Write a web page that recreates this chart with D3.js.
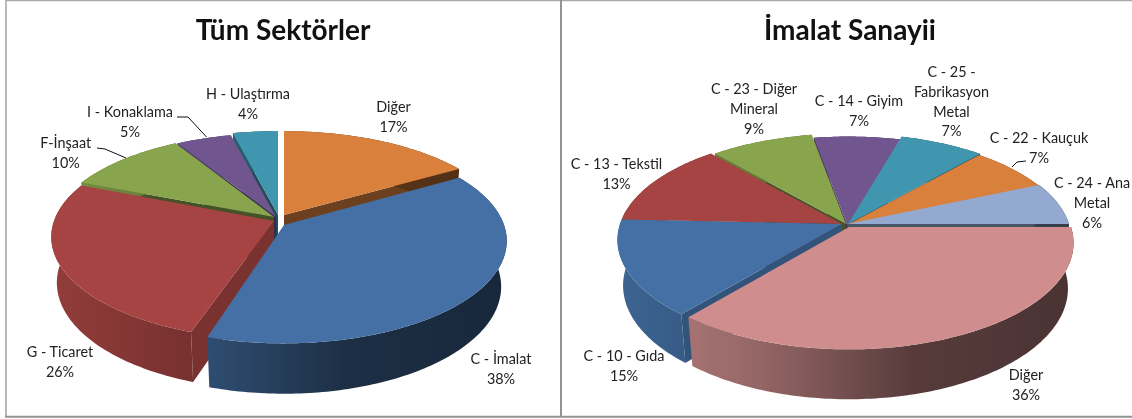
<!DOCTYPE html>
<html><head><meta charset="utf-8">
<style>html,body{margin:0;padding:0;background:#fff}svg{display:block;filter:blur(.35px)}</style>
<script src="https://cdnjs.cloudflare.com/ajax/libs/d3/7.8.5/d3.min.js"></script>
</head><body><div id="c"></div>
<script>
// ---- data ----
const leftTitle = "Tüm Sektörler";
const leftCategories = ["Diğer","C - İmalat","G - Ticaret","F-İnşaat","I - Konaklama","H - Ulaştırma"];
const leftValues = [16.5,38.4,26.4,10.4,4.7,3.8];
const leftColors = ["#D8803C","#4470A5","#A54442","#88A44C","#70558F","#4096AE"];

const rightTitle = "İmalat Sanayii";
const rightCategories = ["Diğer","C - 10 - Gıda","C - 13 - Tekstil","C - 23 - Diğer\nMineral","C - 14 - Giyim","C - 25 -\nFabrikasyon\nMetal","C - 22 - Kauçuk","C - 24 - Ana\nMetal"];
const rightValues = [35.7,14.5,12.75,8.5,7.2,7,6.9,6.45];
const rightColors = ["#CF8D8D","#4470A5","#A54442","#88A44C","#70558F","#4096AE","#D8803C","#93A9CF"];

// ---- layout (styling only) ----
const pies = [
 {title:leftTitle,titleX:283,cats:leftCategories,vals:leftValues,cols:leftColors,
  cx:279,cy:219,R:220,Rk:97,p:.156,start:0,
  shift:[[5,-4],[5,6],[-5,2],[-5,-2],[-3,-2],[-1,-4]],
  stretch:[1,1.03,1.03,1,1,1],
  trim:[0,0,1.5,0,0,0],
  labels:[[393.5,112],[501,364],[60,357],[65.7,148],[130,117],[248,99]],
  leaders:[[[177,117],[188,117],[206.5,137]],[[97,148],[105,149],[126,158]]]},
 {title:rightTitle,titleX:850,cats:rightCategories,vals:rightValues,cols:rightColors,
  cx:848,cy:222,R:222,Rk:104,p:.15,start:90,
  shift:[[1,5],[-6,2],[-6,2],[-2,2],[0,5],[0,2],[-1,3],[-1,2]],
  stretch:[1,1,1,1,1,1,1,1],
  trim:[0,0,0,0,0,0,0,0],
  labels:[[1026,380],[624,361],[616.5,169],[754,94],[859,106],[951.5,77],[1039,143],[1092,188]],
  leaders:[[[1026,161],[1017,162],[1012,167]]]}
];
const dropBase = 45, bottomScale = .975;
const wallStops = [[-1,.88],[-.4,.72],[.3,.42],[1,.36]];

const W=1132,H=419;
const svg=d3.select("#c").append("svg").attr("width",W).attr("height",H);
const defs=svg.append("defs");
const line=d3.line();
const scaleColor=(c,f)=>{const r=d3.rgb(c);return d3.rgb(r.r*f,r.g*f,r.b*f).formatHex();};

// frames
svg.append("path").attr("d","M6,417V0.5H1132").attr("fill","none").attr("stroke","#a8a8a8").attr("stroke-width",1.6);
svg.append("path").attr("d","M561,0V417M5,416.8H1132").attr("fill","none").attr("stroke","#939393").attr("stroke-width",2);

pies.forEach((P,pi)=>{
  const g=svg.append("g");
  const arcs=d3.pie().sort(null).startAngle(P.start*Math.PI/180).endAngle((P.start+360)*Math.PI/180)(P.vals);
  const proj=(a,r,sh,low,k)=>{
    const u=Math.sin(a)*r,v=-Math.cos(a)*r,s=1/(1-P.p*v);
    let x=P.R*u*s,y=P.Rk*k*v*s;
    if(low){x*=bottomScale;y=y*bottomScale+dropBase*s;}
    return [P.cx+sh[0]+x,P.cy+sh[1]+y];
  };
  const order=arcs.map((d,i)=>({d,i,mid:(d.startAngle+d.endAngle)/2}))
    .sort((a,b)=>(-Math.cos(a.mid))-(-Math.cos(b.mid)));
  order.forEach(({d,i})=>{
    const sh=P.shift[i],col=P.cols[i],k=P.stretch[i];
    const a0=d.startAngle+P.trim[i]*Math.PI/180;
    const steps=d3.range(a0,d.endAngle,Math.PI/180).concat([d.endAngle]);
    const rimT=steps.map(a=>proj(a,1,sh,false,k));
    const rimB=steps.map(a=>proj(a,1,sh,true,k));
    const apexT=proj(0,0,sh,false,k),apexB=proj(0,0,sh,true,k);
    // cut faces: only those that turn towards the viewer
    [[a0,-Math.PI/2],[d.endAngle,Math.PI/2]].forEach(([a,n])=>{
      if(-Math.cos(a+n)<-.02) return;
      const deg=(a*180/Math.PI)%360;
      const f=(deg>180&&deg<230)?.74:(deg>0&&deg<30)?.72:.5;
      g.append("path").attr("d",line([apexT,proj(a,1,sh,false,k),proj(a,1,sh,true,k),apexB])+"Z")
       .attr("fill",scaleColor(col,f));
    });
    // outer wall with shading along x
    const id=`w${pi}_${i}`;
    const gr=defs.append("linearGradient").attr("id",id).attr("gradientUnits","userSpaceOnUse")
      .attr("x1",P.cx-P.R).attr("x2",P.cx+P.R).attr("y1",0).attr("y2",0);
    const off=d3.scaleLinear().domain([-1,1]).range([0,1]);
    wallStops.forEach(s=>gr.append("stop").attr("offset",off(s[0])).attr("stop-color",scaleColor(col,s[1])));
    g.append("path").attr("d",line(rimT.concat(rimB.slice().reverse()))+"Z").attr("fill",`url(#${id})`);
    // top
    g.append("path").attr("d",line([apexT].concat(rimT))+"Z").attr("fill",col);
  });
  // title
  g.append("text").attr("x",P.titleX).attr("y",40).attr("text-anchor","middle")
   .attr("font-family","Lato").attr("font-weight","700").attr("font-size",28).attr("fill","#111").text(P.title);
  // labels
  P.cats.forEach((c,i)=>{
    const lines=c.split("\n").concat([Math.round(P.vals[i])+"%"]);
    const t=g.append("text").attr("font-family","Lato").attr("font-size",14.4).attr("fill","#222").attr("text-anchor","middle");
    lines.forEach((l,k)=>t.append("tspan").attr("x",P.labels[i][0]).attr("y",P.labels[i][1]+k*19.8).text(l));
  });
  P.leaders.forEach(l=>g.append("path").attr("d",line(l)).attr("fill","none").attr("stroke","#111").attr("stroke-width",1));
});
</script></body></html>
